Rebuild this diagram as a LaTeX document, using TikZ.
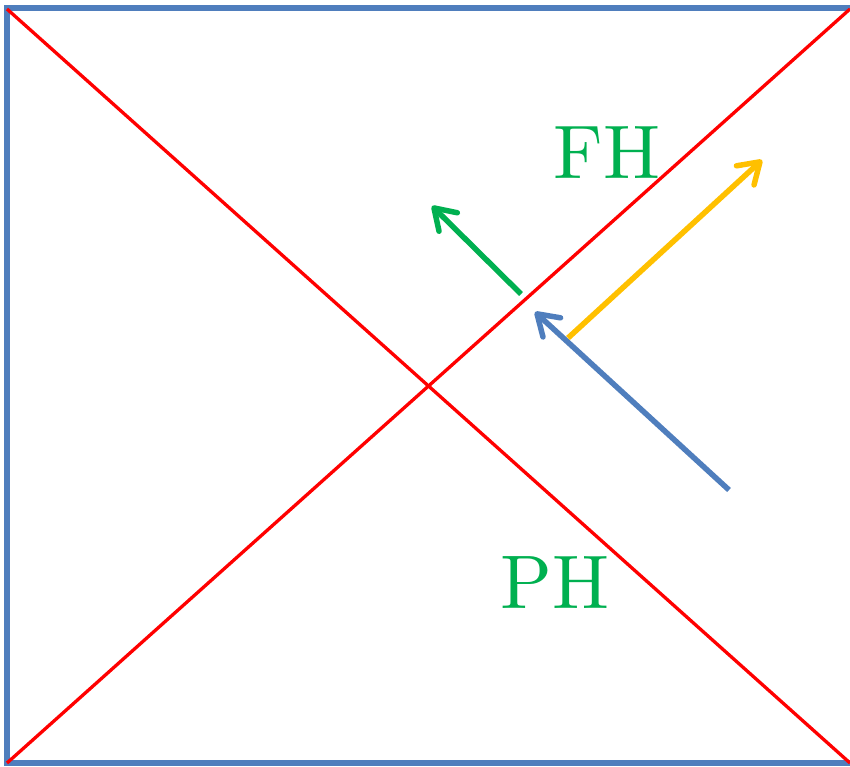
\documentclass[tikz,border=0pt]{standalone}
\usepackage{fontspec}
\newfontfamily\lmtenfont{lmroman10-regular.otf}
\usetikzlibrary{arrows.meta}
\definecolor{frameblue}{RGB}{79,126,189}
\definecolor{lblgreen}{RGB}{0,176,80}
\definecolor{arryellow}{RGB}{255,192,0}
\begin{document}
\begin{tikzpicture}[x=1pt,y=-1pt,
  arr/.style={line width=5.5pt, -{Straight Barb[length=20pt,width=26pt,round]}},
  lbl/.style={text=lblgreen, font=\lmtenfont\fontsize{76}{76}\selectfont, inner sep=0pt}]
\useasboundingbox (0,0) rectangle (850,766);
\clip (0,0) rectangle (850,766);
\draw[frameblue, line width=6pt] (7,8) rectangle (880,763);
\coordinate (tl) at (7,9);
\coordinate (br) at (850,763);
\coordinate (bl) at (7,763);
\coordinate (tr) at (850,9);
\draw[red, line width=3.3pt] (tl) -- (br);
\draw[red, line width=3.3pt] (bl) -- (tr);
\coordinate (g1) at (521,294);
\coordinate (g2) at (432,206);
\coordinate (b1) at (729,490);
\coordinate (b2) at (535,312);
\coordinate (y1) at (568,338);
\coordinate (y2) at (762,160);
\draw[arr, lblgreen] (g1) -- (g2);
\draw[arr, frameblue] (b1) -- (b2);
\draw[arr, arryellow] (y1) -- (y2);
\node[lbl] (fh) at (607,153) {FH};
\node[lbl] (ph) at (555,583) {PH};
\end{tikzpicture}
\end{document}
